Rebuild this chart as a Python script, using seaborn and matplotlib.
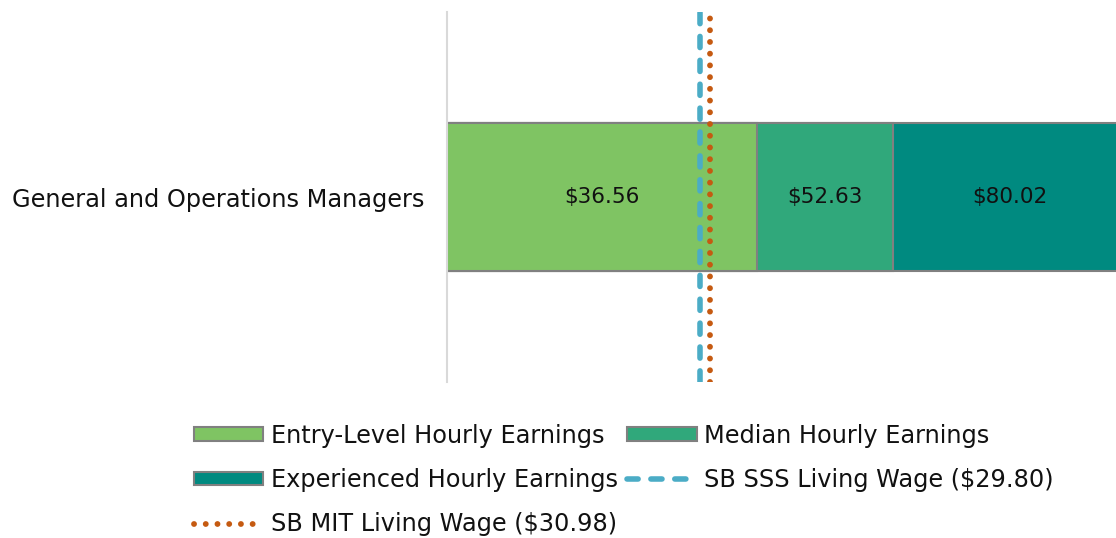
import pandas as pd
import matplotlib.pyplot as plt
import seaborn as sns
from matplotlib.patches import Patch
from matplotlib.lines import Line2D

# data
occupation = ["General and Operations Managers"]
entry_level = [36.56]
median_wage = [52.63]
experienced = [80.02]
sss_wage = 29.80
mit_wage = 30.98

series_names = ["Entry-Level Hourly Earnings", "Median Hourly Earnings", "Experienced Hourly Earnings"]
colors = ["#7FC463", "#30A87B", "#008A80"]

df = pd.DataFrame({"Occupation": occupation, "Entry": entry_level,
                   "Median": median_wage, "Experienced": experienced})

sns.set_style("white")
plt.rcParams["font.family"] = ["DejaVu Sans"]
plt.rcParams["text.color"] = "#111111"
plt.rcParams["ytick.color"] = "#111111"

fig = plt.figure(figsize=(11.16, 5.38), dpi=100)
ax = fig.add_axes([447 / 1116, 1 - 382 / 538, 1 - 447 / 1116, 370 / 538])

# stacked look: draw the cumulative totals, biggest first
for col, c in zip(["Experienced", "Median", "Entry"], colors[::-1]):
    sns.barplot(data=df, x=col, y="Occupation", color=c, width=0.4, saturation=1,
                edgecolor="#808080", linewidth=1.5, ax=ax, orient="h")

# value labels at segment centres
starts = [0, entry_level[0], median_wage[0]]
ends = [entry_level[0], median_wage[0], experienced[0]]
for s, e in zip(starts, ends):
    ax.text((s + e) / 2, 0, f"${e:.2f}", ha="center", va="center", fontsize=15.5)

sss_style = dict(color="#4BACC6", linestyle=(0, (2.0, 2.3)), linewidth=4, dash_capstyle="round")
mit_style = dict(color="#C55A11", linestyle=(0, (0.01, 2.0)), linewidth=4.2, dash_capstyle="round")
ax.axvline(sss_wage, **sss_style)
ax.axvline(mit_wage, **mit_style)

ax.set_xlim(0, 78.9)
ax.set_ylim(0.5, -0.5)
ax.set_xlabel("")
ax.set_ylabel("")
ax.set_xticks([])
ax.tick_params(axis="y", length=0, labelsize=17.3, pad=16)
for side in ["top", "right", "bottom"]:
    ax.spines[side].set_visible(False)
ax.spines["left"].set_color("#D9D9D9")
ax.spines["left"].set_linewidth(1.5)

h_entry = Patch(facecolor=colors[0], edgecolor="#808080", linewidth=1.5, label=series_names[0])
h_med = Patch(facecolor=colors[1], edgecolor="#808080", linewidth=1.5, label=series_names[1])
h_exp = Patch(facecolor=colors[2], edgecolor="#808080", linewidth=1.5, label=series_names[2])
h_sss = Line2D([], [], label=f"SB SSS Living Wage (${sss_wage:.2f})", **sss_style)
h_mit = Line2D([], [], label=f"SB MIT Living Wage (${mit_wage:.2f})", **mit_style)

fig.legend(handles=[h_entry, h_exp, h_mit, h_med, h_sss], ncol=2,
           loc="upper left", bbox_to_anchor=(172 / 1116, 1 - 402 / 538),
           frameon=False, fontsize=17.3, handlelength=2.9, handleheight=0.5,
           handletextpad=0.3, columnspacing=0.4, labelspacing=0.85)

plt.savefig("out.png", dpi=100)
